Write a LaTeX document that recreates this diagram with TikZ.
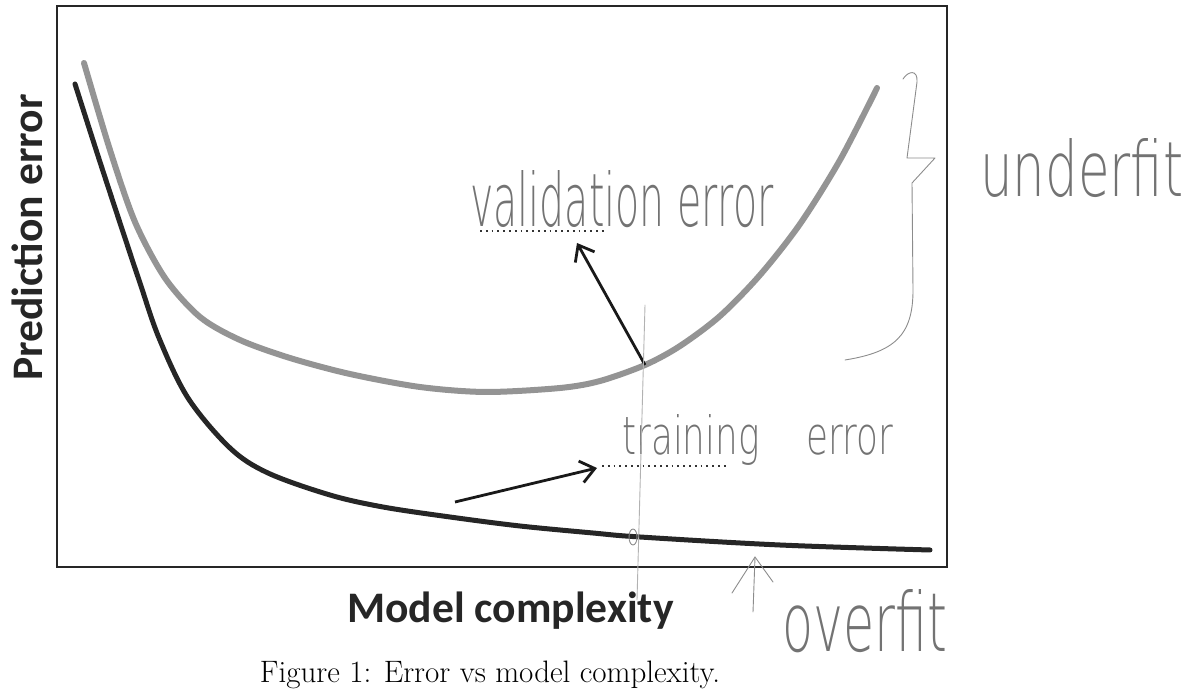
\documentclass[tikz,border=0pt]{standalone}
\usepackage{fontspec}
\usepackage{graphicx}
\usetikzlibrary{arrows.meta}
\newfontfamily\calibri{Carlito}
\newfontfamily\pencilfont{DejaVuSans-ExtraLight.ttf}
% stretch a scribble to the size it has on the page
\newcommand{\scrawl}[3]{\resizebox{#1}{#2}{\pencilfont #3}}

\begin{document}
\begin{tikzpicture}[x=0.5pt,y={(0,-0.5pt)},
  frame/.style={draw=black!85,line width=1.1pt},
  axislabel/.style={font={\calibri\bfseries\fontsize{21.8}{24}\selectfont},text=black!85,inner sep=0pt},
  trainline/.style={draw=black!85,line width=2.5pt,line cap=round},
  valline/.style={draw=black!42,line width=3pt,line cap=round},
  pointer/.style={-{Straight Barb[length=7pt,width=11pt]},line width=1.4pt,draw=black!90},
  scribble/.style={text=black!55,inner sep=0pt,anchor=base west},
  pencil/.style={draw=black!45,line width=0.45pt,line cap=round,line join=round},
  underdots/.style={draw=black!80,line width=0.9pt,dotted}] 
\useasboundingbox (0,0) rectangle (1199,694);

% plot frame and labels
\draw[frame] (57,6) rectangle (947,567);
\node[axislabel,rotate=90] (ylab) at (27.5,237.5) {Prediction error};
\node[axislabel,anchor=base] (xlab) at (510.5,623) {Model complexity};
\node[anchor=base,inner sep=0pt,font=\fontsize{15.5}{18}\selectfont] (caption) at (490,682) {Figure 1: Error vs model complexity.};

% the two error curves
\draw[valline] plot[smooth,tension=0.5] coordinates {(84,63) (110,150) (135,222) (165,278) (200,317) (240,340) (290,358) (350,374) (420,387) (486,392) (560,388) (600,381) (645,365) (680,346) (720,316) (760,275) (800,224) (840,160) (877,88)};
\draw[trainline] plot[smooth,tension=0.55] coordinates {(75,84) (100,162) (123,232) (140,283) (159,338) (188,398) (230,448) (268,473) (330,495) (383,507) (450,517) (520,526) (593,533) (640,537) (780,545) (930,550)};

% handwritten notes
\node[scribble] (valtxt) at (470,227) {\scrawl{151.5pt}{28pt}{validation error}};
\node[scribble] (traintxt) at (622,455) {\scrawl{135.5pt}{20pt}{training\hspace{13pt}error}};
\node[scribble] (under) at (980,197) {\scrawl{101.5pt}{29pt}{underfit}};
\node[scribble] (over) at (782,652) {\scrawl{82.5pt}{31pt}{overfit}};

\coordinate (valpt) at (645,365);
\coordinate (valtip) at (577,243);
\coordinate (trainpt) at (455,502);
\coordinate (traintip) at (597,468);
\coordinate (ovtail) at (753,612);
\coordinate (ovtip) at (755,557);

\draw[underdots] (480,231) -- (607,231);
\draw[underdots] (602,466) -- (728,466);
\draw[pointer] (valpt) -- (valtip);
\draw[pointer] (trainpt) -- (traintip);

% pencil marks
\draw[pencil] (903,79) .. controls (908,71) and (918,69) .. (917,82) -- (907,158) -- (935,158) -- (912,183) -- (913,290) .. controls (913,335) and (895,352) .. (845,360);
\draw[pencil] (ovtail) -- (ovtip);
\draw[pencil] (732,593) -- (ovtip) -- (773,582);
\draw[pencil,draw=black!30] (645,305) -- (637,600);
\draw[pencil] (633,537) ellipse (4 and 8);
\end{tikzpicture}
\end{document}
